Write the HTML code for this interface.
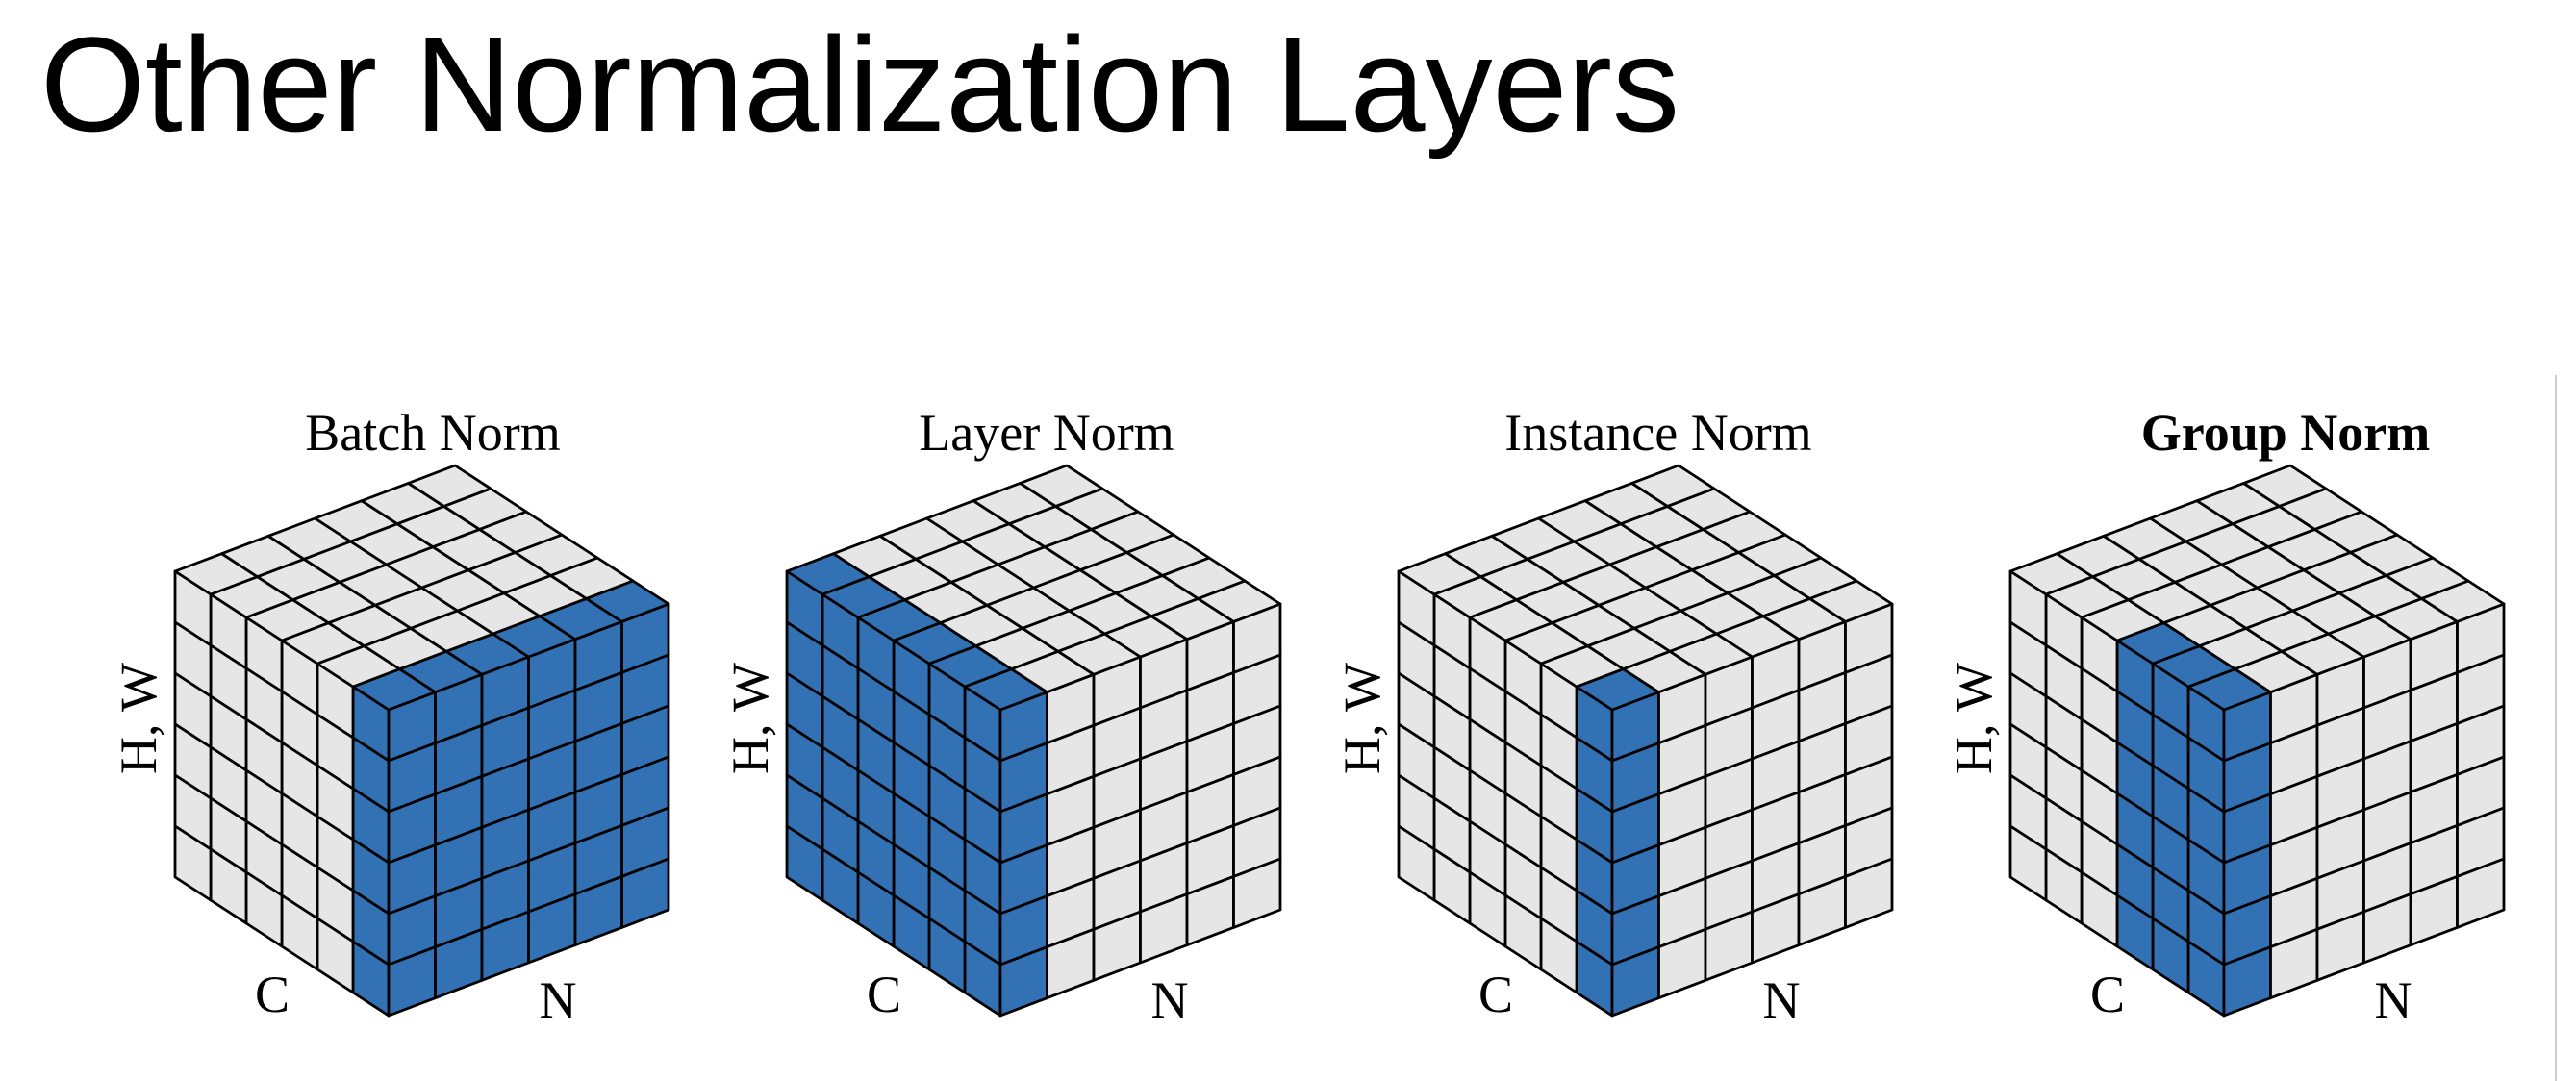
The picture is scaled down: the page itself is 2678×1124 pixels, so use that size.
<!DOCTYPE html>
<html><head><meta charset="utf-8"><style>
html,body{margin:0;padding:0;background:#fff;}
body{width:2678px;height:1124px;position:relative;overflow:hidden;}
.title{position:absolute;left:42px;top:0;font-family:"Liberation Sans",sans-serif;font-size:140px;line-height:1;white-space:nowrap;}
svg{position:absolute;left:0;top:0;}
</style></head><body>
<div class="title" style="top:18px">Other Normalization Layers</div>
<svg id="s" width="2678" height="1124" viewBox="0 0 2678 1124" font-family="Liberation Serif, serif" font-size="54">
<line x1="2657" y1="390" x2="2657" y2="1124" stroke="#cfcfcf" stroke-width="2"/>
<g id="cubes"></g>
<text x="450" y="468" text-anchor="middle">Batch Norm</text>
<text x="1088" y="468" text-anchor="middle">Layer Norm</text>
<text x="1724" y="468" text-anchor="middle">Instance Norm</text>
<text x="2376" y="468" text-anchor="middle" font-weight="bold">Group Norm</text>
<text transform="translate(162,747) rotate(-90)" text-anchor="middle">H, W</text>
<text transform="translate(798,747) rotate(-90)" text-anchor="middle">H, W</text>
<text transform="translate(1434,747) rotate(-90)" text-anchor="middle">H, W</text>
<text transform="translate(2070,747) rotate(-90)" text-anchor="middle">H, W</text>
<text x="283" y="1052" text-anchor="middle">C</text>
<text x="919" y="1052" text-anchor="middle">C</text>
<text x="1555" y="1052" text-anchor="middle">C</text>
<text x="2191" y="1052" text-anchor="middle">C</text>
<text x="580" y="1058" text-anchor="middle">N</text>
<text x="1216" y="1058" text-anchor="middle">N</text>
<text x="1852" y="1058" text-anchor="middle">N</text>
<text x="2488" y="1058" text-anchor="middle">N</text>
</svg>
<script>
(function(){
var g=document.getElementById('cubes');
var sels=[
 function(c,n){return c==0;},
 function(c,n){return n==0;},
 function(c,n){return c==0&&n==0;},
 function(c,n){return n==0&&c<=2;}
];
var out='';
for(var k=0;k<4;k++){
 var fx=404+636*k, fy=738, sel=sels[k];
 function P(c,n,h){return (fx-37*c+48.5*n).toFixed(1)+','+(fy-24*c-18.33*n+53*h).toFixed(1);}
 function poly(a,b,cc,d,blue){out+='<polygon points="'+a+' '+b+' '+cc+' '+d+'" fill="'+(blue?'#3271b4':'#e6e6e6')+'" stroke="#000" stroke-width="2.8" stroke-linejoin="round"/>';}
 for(var c=0;c<6;c++)for(var h=0;h<6;h++)poly(P(c,0,h),P(c+1,0,h),P(c+1,0,h+1),P(c,0,h+1),sel(c,0));
 for(var n=0;n<6;n++)for(var h=0;h<6;h++)poly(P(0,n,h),P(0,n+1,h),P(0,n+1,h+1),P(0,n,h+1),sel(0,n));
 for(var c=0;c<6;c++)for(var n=0;n<6;n++)poly(P(c,n,0),P(c+1,n,0),P(c+1,n+1,0),P(c,n+1,0),sel(c,n));
}
g.innerHTML=out;
})();
</script>
</body></html>
